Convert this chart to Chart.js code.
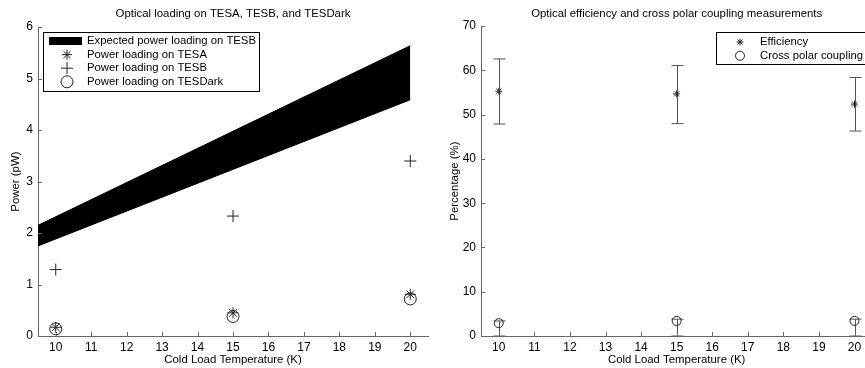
<!DOCTYPE html>
<html>
<head>
<meta charset="utf-8">
<script src="https://cdn.jsdelivr.net/npm/chart.js@4"></script>
<style>
  html, body { margin: 0; padding: 0; background: #fff; overflow: hidden; }
  #wrap { position: relative; width: 865px; height: 368px; overflow: hidden; }
  canvas { position: absolute; top: 0; }
</style>
</head>
<body>
<div id="wrap">
  <canvas id="loading" width="440" height="368" style="left:0"></canvas>
  <canvas id="efficiency" width="445" height="368" style="left:440px"></canvas>
</div>
<script>
// cold load temperatures (K)
const temps = [10, 15, 20];
const xTicks = [10, 11, 12, 13, 14, 15, 16, 17, 18, 19, 20];

// left plot: power loading (pW)
const tesA = [0.17, 0.45, 0.81];
const tesB = [1.29, 2.33, 3.40];
const tesDark = [0.14, 0.38, 0.72];
const bandT = [9.5, 20];
const bandLow = [1.75, 4.59];
const bandHigh = [2.15, 5.64];
const powerTicks = [0, 1, 2, 3, 4, 5, 6];

// right plot: percentages
const efficiency = [55.3, 54.7, 52.4];
const effLow = [47.9, 48.0, 46.3];
const effHigh = [62.6, 61.1, 58.4];
const crossPol = [2.9, 3.4, 3.4];
const cpLow = [0, 0, 0];
const cpHigh = [3.4, 3.8, 3.8];
const pctTicks = [0, 10, 20, 30, 40, 50, 60, 70];

const FONT = "'Liberation Sans', Arial, Helvetica, sans-serif";
const AXIS = '#666';
const MARK = '#222';

const pts = (xs, ys) => xs.map((x, i) => ({ x: x, y: ys[i] }));

// inward tick marks like matlab
const innerTicks = {
  id: 'innerTicks',
  afterDraw(chart) {
    const ctx = chart.ctx, a = chart.chartArea;
    const xs = chart.scales.x, ys = chart.scales.y;
    ctx.save();
    ctx.strokeStyle = AXIS;
    ctx.lineWidth = 1;
    ctx.beginPath();
    xs.ticks.forEach(t => {
      const px = Math.round(xs.getPixelForValue(t.value)) + 0.5;
      ctx.moveTo(px, a.bottom);
      ctx.lineTo(px, a.bottom - 4);
    });
    ys.ticks.forEach(t => {
      const py = Math.round(ys.getPixelForValue(t.value)) + 0.5;
      ctx.moveTo(a.left, py);
      ctx.lineTo(a.left + 4, py);
    });
    ctx.stroke();
    ctx.restore();
  }
};

// vertical error bars with caps
const errorBars = {
  id: 'errorBars',
  beforeDatasetsDraw(chart) {
    const ctx = chart.ctx, a = chart.chartArea;
    const xs = chart.scales.x, ys = chart.scales.y;
    ctx.save();
    ctx.beginPath();
    ctx.rect(a.left, a.top, a.right - a.left, a.bottom - a.top);
    ctx.clip();
    ctx.strokeStyle = '#555';
    ctx.lineWidth = 1;
    chart.data.datasets.forEach(ds => {
      if (!ds.errLow) return;
      ds.data.forEach((p, i) => {
        const px = Math.round(xs.getPixelForValue(p.x)) + 0.5;
        const lo = ys.getPixelForValue(ds.errLow[i]);
        const hi = ys.getPixelForValue(ds.errHigh[i]);
        ctx.beginPath();
        ctx.moveTo(px, lo); ctx.lineTo(px, hi);
        ctx.moveTo(px - 6, hi); ctx.lineTo(px + 6, hi);
        ctx.moveTo(px - 6, lo); ctx.lineTo(px + 6, lo);
        ctx.stroke();
      });
    });
    ctx.restore();
  }
};

function drawMarker(ctx, style, x, y, r) {
  ctx.beginPath();
  if (style === 'circle') {
    ctx.arc(x, y, r, 0, Math.PI * 2);
  } else {
    ctx.moveTo(x - r, y); ctx.lineTo(x + r, y);
    ctx.moveTo(x, y - r); ctx.lineTo(x, y + r);
    if (style === 'star') {
      const d = r * Math.SQRT1_2;
      ctx.moveTo(x - d, y - d); ctx.lineTo(x + d, y + d);
      ctx.moveTo(x - d, y + d); ctx.lineTo(x + d, y - d);
    }
  }
  ctx.stroke();
}

// legend box drawn inside the plot area
const boxLegend = {
  id: 'boxLegend',
  afterDraw(chart, args, opts) {
    const ctx = chart.ctx;
    const b = opts.box;
    ctx.save();
    ctx.fillStyle = '#fff';
    ctx.fillRect(b.x, b.y, b.w, b.h);
    ctx.strokeStyle = '#000';
    ctx.lineWidth = 1;
    ctx.strokeRect(b.x + 0.5, b.y + 0.5, b.w, b.h);
    ctx.font = '11.3px ' + FONT;
    ctx.textBaseline = 'middle';
    opts.items.forEach((it, i) => {
      const y = b.y + opts.first + i * opts.step;
      if (it.swatch) {
        ctx.fillStyle = '#000';
        ctx.fillRect(b.x + 6, y - 4, 33, 8);
      } else {
        ctx.strokeStyle = MARK;
        drawMarker(ctx, it.style, opts.markX, y, it.r);
      }
      ctx.fillStyle = '#000';
      ctx.fillText(it.text, opts.textX, y);
    });
    ctx.restore();
  }
};

function xScale() {
  return {
    type: 'linear', min: 9.5, max: 20.5,
    afterBuildTicks: s => { s.ticks = xTicks.map(v => ({ value: v })); },
    afterFit: s => { s.height = 32; },
    grid: { display: false, drawTicks: false },
    border: { display: true, color: AXIS },
    ticks: { color: '#000', padding: 4, font: { family: FONT, size: 12 } },
    title: { display: true, text: 'Cold Load Temperature (K)', color: '#000',
             padding: { top: 0, bottom: 1 }, font: { family: FONT, size: 11.4 } }
  };
}

function yScale(max, ticks, width, label, pad) {
  return {
    type: 'linear', min: 0, max: max,
    afterBuildTicks: s => { s.ticks = ticks.map(v => ({ value: v })); },
    afterFit: s => { s.width = width; },
    grid: { display: false, drawTicks: false },
    border: { display: true, color: AXIS },
    ticks: { color: '#000', padding: 5, font: { family: FONT, size: 12 } },
    title: { display: true, text: label, color: '#000',
             padding: { top: pad, bottom: 0 }, font: { family: FONT, size: 11.4 } }
  };
}

function titleOpts(text, bottom) {
  return { display: true, text: text, color: '#000', fullSize: false,
           padding: { top: 7, bottom: bottom }, font: { family: FONT, size: 11.4, weight: 'normal' } };
}

new Chart(document.getElementById('loading'), {
  type: 'scatter',
  data: {
    datasets: [
      { label: 'band low', data: pts(bandT, bandLow), showLine: true, fill: false,
        borderColor: '#000', borderWidth: 1, pointRadius: 0 },
      { label: 'Expected power loading on TESB', data: pts(bandT, bandHigh), showLine: true, fill: '-1',
        backgroundColor: '#000', borderColor: '#000', borderWidth: 1, pointRadius: 0 },
      { label: 'Power loading on TESA', data: pts(temps, tesA), pointStyle: 'star',
        pointRadius: 5.5, borderColor: MARK, borderWidth: 1, backgroundColor: 'transparent' },
      { label: 'Power loading on TESB', data: pts(temps, tesB), pointStyle: 'cross',
        pointRadius: 6, borderColor: MARK, borderWidth: 1, backgroundColor: 'transparent' },
      { label: 'Power loading on TESDark', data: pts(temps, tesDark), pointStyle: 'circle',
        pointRadius: 6, borderColor: MARK, borderWidth: 1, backgroundColor: 'transparent' }
    ]
  },
  options: {
    responsive: false, animation: false,
    layout: { padding: { left: 0, right: 12, top: 0, bottom: 0 } },
    scales: { x: xScale(), y: yScale(6, powerTicks, 38, 'Power (pW)', 9) },
    plugins: {
      legend: { display: false },
      tooltip: { enabled: false },
      title: titleOpts('Optical loading on TESA, TESB, and TESDark', 6.5),
      boxLegend: {
        box: { x: 43, y: 32, w: 216, h: 59 },
        first: 9, step: 13.6, markX: 67, textX: 87,
        items: [
          { swatch: true, text: 'Expected power loading on TESB' },
          { style: 'star', r: 5, text: 'Power loading on TESA' },
          { style: 'cross', r: 6, text: 'Power loading on TESB' },
          { style: 'circle', r: 6, text: 'Power loading on TESDark' }
        ]
      }
    }
  },
  plugins: [innerTicks, boxLegend]
});

new Chart(document.getElementById('efficiency'), {
  type: 'scatter',
  data: {
    datasets: [
      { label: 'Efficiency', data: pts(temps, efficiency), errLow: effLow, errHigh: effHigh,
        pointStyle: 'star', pointRadius: 3.5, borderColor: MARK, borderWidth: 1, backgroundColor: 'transparent' },
      { label: 'Cross polar coupling', data: pts(temps, crossPol), errLow: cpLow, errHigh: cpHigh,
        pointStyle: 'circle', pointRadius: 4.5, borderColor: MARK, borderWidth: 1, backgroundColor: 'transparent' }
    ]
  },
  options: {
    responsive: false, animation: false,
    layout: { padding: { left: 0, right: 12.7, top: 0, bottom: 0 } },
    scales: { x: xScale(), y: yScale(70, pctTicks, 41, 'Percentage (%)', 8) },
    plugins: {
      legend: { display: false },
      tooltip: { enabled: false },
      title: titleOpts('Optical efficiency and cross polar coupling measurements', 5.5),
      boxLegend: {
        box: { x: 276, y: 32, w: 160, h: 32 },
        first: 10, step: 13.7, markX: 300, textX: 320,
        items: [
          { style: 'star', r: 3.5, text: 'Efficiency' },
          { style: 'circle', r: 4.5, text: 'Cross polar coupling' }
        ]
      }
    }
  },
  plugins: [errorBars, innerTicks, boxLegend]
});
</script>
</body>
</html>
